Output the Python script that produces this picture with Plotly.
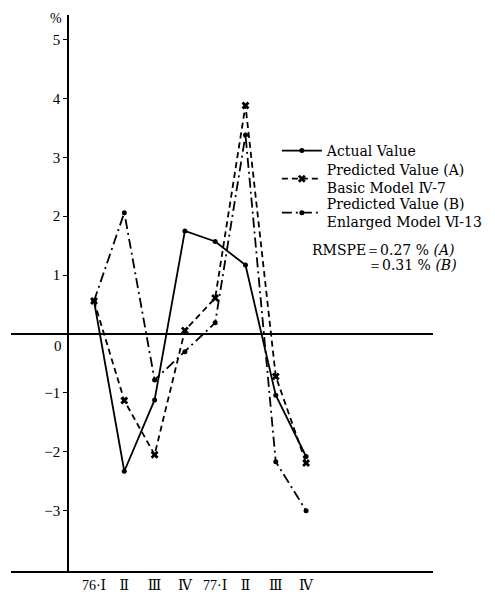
import plotly.graph_objects as go

quarters = ["76·Ⅰ", "Ⅱ", "Ⅲ", "Ⅳ", "77·Ⅰ", "Ⅱ", "Ⅲ", "Ⅳ"]
actual = [0.56, -2.33, -1.12, 1.75, 1.57, 1.17, -1.04, -2.08]
pred_a = [0.56, -1.13, -2.05, 0.06, 0.61, 3.88, -0.72, -2.19]
pred_b = [0.56, 2.06, -0.78, -0.30, 0.19, 3.38, -2.17, -3.00]
y_ticks = [5, 4, 3, 2, 1, -1, -2, -3]
y_tick_text = ["5", "4", "3", "2", "1", "−1", "−2", "−3"]

SERIF = "Liberation Serif, Times New Roman, DejaVu Serif, serif"
WIDE_SERIF = "DejaVu Serif, Liberation Serif, serif"
xpos = list(range(len(quarters)))

fig = go.Figure()
fig.add_trace(go.Scatter(
    x=xpos, y=actual, mode="lines+markers", name="Actual Value",
    line=dict(color="black", width=1.8), legend="legend",
    marker=dict(symbol="circle", size=5, color="black")))
fig.add_trace(go.Scatter(
    x=xpos, y=pred_a, mode="lines+markers",
    name="Predicted Value (A)<br>Basic Model Ⅳ-7", legend="legend2",
    line=dict(color="black", width=1.8, dash="6px,4px"),
    marker=dict(symbol="x", size=7, color="black")))
fig.add_trace(go.Scatter(
    x=xpos, y=pred_b, mode="lines+markers",
    name="Predicted Value (B)<br>Enlarged Model Ⅵ-13", legend="legend3",
    line=dict(color="black", width=1.8, dash="10px,4px,2px,4px"),
    marker=dict(symbol="circle", size=5, color="black")))

leg_common = dict(x=0.630, xanchor="left", yanchor="middle",
                  bgcolor="rgba(0,0,0,0)", font=dict(family=WIDE_SERIF, size=14),
                  itemwidth=40, tracegroupgap=0)

fig.update_layout(
    width=495, height=594,
    margin=dict(l=3, r=70, t=7, b=31),
    paper_bgcolor="white", plot_bgcolor="white",
    font=dict(family=SERIF, size=15, color="black"),
    showlegend=True,
    legend=dict(y=0.7554, **leg_common),
    legend2=dict(y=0.7050, **leg_common),
    legend3=dict(y=0.6439, **leg_common),
    xaxis=dict(range=[-2.74, 11.19], showgrid=False, zeroline=False,
               showline=True, linecolor="black", linewidth=1.5,
               tickmode="array", tickvals=xpos, ticktext=quarters,
               ticks="", tickfont=dict(family=SERIF, size=14),
               automargin=False),
    yaxis=dict(range=[-4.024, 5.416], showgrid=False,
               zeroline=True, zerolinecolor="black", zerolinewidth=1.5,
               showline=True, linecolor="black", linewidth=1.5,
               anchor="free", position=0.135,
               tickmode="array", tickvals=y_ticks, ticktext=y_tick_text,
               ticks="outside", ticklen=4, tickcolor="black",
               tickfont=dict(family=SERIF, size=15), automargin=False),
)

fig.add_annotation(text="%", xref="paper", yref="paper", x=0.107, y=0.994,
                   showarrow=False, font=dict(family=SERIF, size=14),
                   xanchor="center", yanchor="middle")
fig.add_annotation(text="0", xref="paper", yref="y", x=0.111, y=-0.21,
                   showarrow=False, font=dict(family=SERIF, size=15),
                   xanchor="center", yanchor="middle")
fig.add_annotation(text="RMSPE＝0.27 % <i>(A)</i>", xref="paper", yref="paper",
                   x=1.057, y=0.578, showarrow=False, xanchor="right", yanchor="middle",
                   font=dict(family=WIDE_SERIF, size=14))
fig.add_annotation(text="＝0.31 % <i>(B)</i>", xref="paper", yref="paper",
                   x=1.062, y=0.550, showarrow=False, xanchor="right", yanchor="middle",
                   font=dict(family=WIDE_SERIF, size=14))

fig.write_html("out.html")
